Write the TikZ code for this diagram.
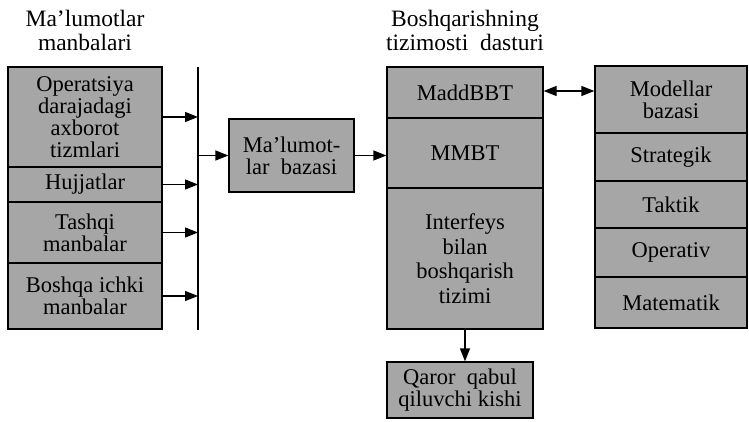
\documentclass[tikz,border=0pt]{standalone}
\usepackage{fontspec}
\setmainfont{Liberation Serif}
\usetikzlibrary{arrows.meta}

\begin{document}
\begin{tikzpicture}[x=1pt,y=-1pt,
  box/.style={draw,line width=1.3pt,fill=black!35,align=center,inner sep=0pt,
    font=\fontsize{22.5}{22}\selectfont},
  title/.style={align=center,font=\fontsize{23.5}{24}\selectfont},
  arr/.style={line width=1.3pt,-{Triangle[length=13pt,width=10pt]}},
  darr/.style={line width=1.3pt,{Triangle[length=13pt,width=10pt]}-{Triangle[length=13pt,width=10pt]}}]
\useasboundingbox (0,0) rectangle (749,422);
% Headings
\node[title] (hsrc) at (85,30) {Ma’lumotlar\\manbalari};
\node[title] (hsys) at (465,30) {Boshqarishning\\tizimosti\ \ dasturi};
% Sources
\node[box,minimum width=154pt,minimum height=100pt] (op) at (85,117) {Operatsiya\\darajadagi\\axborot\\tizmlari};
\node[box,minimum width=154pt,minimum height=35pt] (huj) at (85,184.5) {Hujjatlar};
\node[box,minimum width=154pt,minimum height=61pt] (tash) at (85,232.5) {Tashqi\\manbalar};
\node[box,minimum width=154pt,minimum height=66pt] (bosh) at (85,296) {Boshqa ichki\\manbalar};
% Collecting line
\coordinate (bustop) at (198,67);
\coordinate (busbot) at (198,330);
\draw[line width=1.3pt] (bustop) -- (busbot);
\foreach \s in {op,huj,tash,bosh}
  \draw[arr] (\s.east) -- (\s.east -| bustop);
% Data base
\node[box,minimum width=125pt,minimum height=73pt] (mb) at (291.5,155.5) {Ma’lumot-\\lar\ \ bazasi};
\draw[arr] (mb.west -| bustop) -- (mb.west);
% Control system
\node[box,minimum width=156pt,minimum height=51pt] (madd) at (465,92.5) {MaddBBT};
\node[box,minimum width=156pt,minimum height=70pt] (mmbt) at (465,153) {MMBT};
\node[box,minimum width=156pt,minimum height=141pt,font=\fontsize{22.5}{24.5}\selectfont] (intf) at (465,258.5) {Interfeys\\bilan\\boshqarish\\tizimi};
\draw[arr] (mb.east) -- (mb.east -| mmbt.west);
% Decision maker
\node[box,minimum width=146pt,minimum height=56pt] (qaror) at (460,390) {Qaror\ \ qabul\\qiluvchi kishi};
\draw[arr] (intf.south) -- (intf.south |- qaror.north);
% Models
\node[box,minimum width=152pt,minimum height=67pt] (model) at (671,99.5) {Modellar\\bazasi};
\node[box,minimum width=152pt,minimum height=48pt] (strat) at (671,157) {Strategik};
\node[box,minimum width=152pt,minimum height=47pt] (takt) at (671,204.5) {Taktik};
\node[box,minimum width=152pt,minimum height=49pt] (oper) at (671,252.5) {Operativ};
\node[box,minimum width=152pt,minimum height=51pt] (mat) at (671,302.5) {Matematik};
\draw[darr] ([yshift=1.5pt]madd.east) -- ([yshift=1.5pt]madd.east -| model.west);
\end{tikzpicture}
\end{document}
